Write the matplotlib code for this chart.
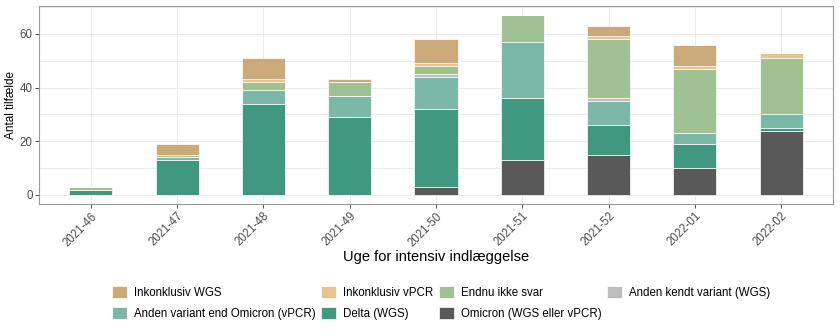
import numpy as np
import matplotlib.pyplot as plt
from matplotlib.patches import Patch

plt.rcParams['font.family'] = ['Liberation Sans', 'DejaVu Sans']

weeks = ['2021-46', '2021-47', '2021-48', '2021-49', '2021-50',
         '2021-51', '2021-52', '2022-01', '2022-02']

# stacked from the bottom up
omicron     = [0, 0, 0, 0, 3, 13, 15, 10, 24]
delta       = [2, 13, 34, 29, 29, 23, 11, 9, 1]
anden_vpcr  = [0, 1, 5, 8, 12, 21, 9, 4, 5]
anden_kendt = [0, 0, 0, 0, 1, 0, 1, 0, 0]
endnu       = [1, 1, 3, 5, 3, 10, 22, 24, 21]
inkon_vpcr  = [0, 0, 1, 0, 1, 0, 1, 1, 2]
inkon_wgs   = [0, 4, 8, 1, 9, 0, 4, 8, 0]

series = [
    ('Omicron (WGS eller vPCR)', omicron, '#595959'),
    ('Delta (WGS)', delta, '#409880'),
    ('Anden variant end Omicron (vPCR)', anden_vpcr, '#7bb8a7'),
    ('Anden kendt variant (WGS)', anden_kendt, '#bdbdbd'),
    ('Endnu ikke svar', endnu, '#a0c194'),
    ('Inkonklusiv vPCR', inkon_vpcr, '#e6c48c'),
    ('Inkonklusiv WGS', inkon_wgs, '#c9aa78'),
]

fig = plt.figure(figsize=(8.4, 3.36), dpi=100)
ax = fig.add_axes([39/840, 1-204/336, (833-39)/840, (204-6)/336])

x = np.arange(1, len(weeks) + 1)
bottom = np.zeros(len(weeks))
handles = {}
for name, vals, col in series:
    vals = np.array(vals)
    ax.bar(x, vals, width=0.5, bottom=bottom, color=col,
           edgecolor='white', linewidth=0.5, zorder=3)
    handles[name] = Patch(facecolor=col, edgecolor='white', linewidth=0.5)
    bottom += vals

ax.set_xlim(0.4, 9.6)
ax.set_ylim(-3.35, 70.35)
ax.set_yticks([0, 20, 40, 60])
ax.set_yticks([10, 30, 50, 70], minor=True)
ax.set_xticks(x)
ax.set_xticklabels(weeks, rotation=45, ha='right', rotation_mode='anchor')
ax.tick_params(axis='both', colors='#333333', labelcolor='#4d4d4d',
               labelsize=8.3, length=3, width=0.6, pad=1.5)
ax.tick_params(axis='y', which='minor', length=0)
ax.grid(True, which='both', color='#ebebeb', linewidth=0.7, zorder=0)
for s in ax.spines.values():
    s.set_color('#999999')
    s.set_linewidth(0.8)

ax.set_ylabel('Antal tilfælde', fontsize=8.5, labelpad=2)
ax.set_xlabel('Uge for intensiv indlæggelse', fontsize=10.5, labelpad=1)

order = ['Inkonklusiv WGS', 'Anden variant end Omicron (vPCR)',
         'Inkonklusiv vPCR', 'Delta (WGS)',
         'Endnu ikke svar', 'Omicron (WGS eller vPCR)',
         'Anden kendt variant (WGS)']
fig.legend([handles[n] for n in order], order, ncol=4, frameon=False,
           loc='center', bbox_to_anchor=(441/840, 1-303/336),
           fontsize=8.3, handlelength=1.3, handleheight=1.2,
           columnspacing=0.5, handletextpad=0.6, labelspacing=0.75)

fig.savefig('out.png', dpi=100)
